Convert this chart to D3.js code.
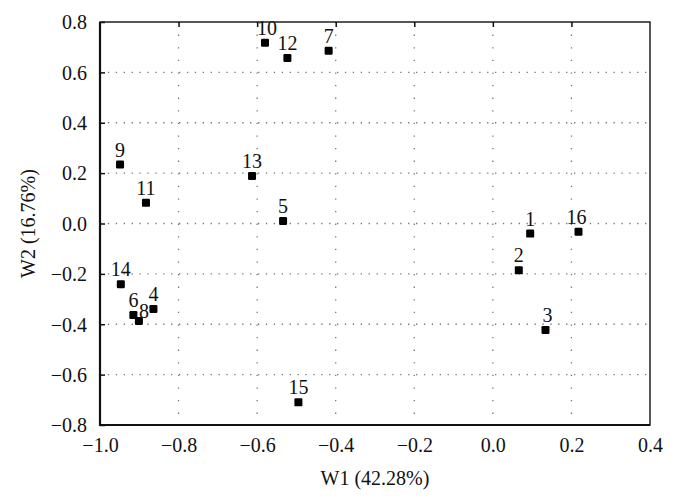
<!DOCTYPE html>
<html>
<head>
<meta charset="utf-8">
<script src="https://cdn.jsdelivr.net/npm/d3@7"></script>
<style>
    body { margin: 0; background: #fff; }
    svg text { font-family: "Liberation Serif", "DejaVu Serif", serif; fill: #111; }
</style>
</head>
<body>
<script>
(function() {

    // data
    var pointIds = ["1", "2", "3", "4", "5", "6", "7", "8", "9", "10", "11", "12", "13", "14", "15", "16"];
    var w1Values = [0.095, 0.066, 0.134, -0.864, -0.534, -0.915, -0.418, -0.901, -0.949, -0.580, -0.883, -0.523, -0.613, -0.947, -0.495, 0.218];
    var w2Values = [-0.040, -0.186, -0.423, -0.339, 0.010, -0.363, 0.686, -0.387, 0.234, 0.718, 0.082, 0.657, 0.189, -0.241, -0.710, -0.033];
    var xTicks = [-1.0, -0.8, -0.6, -0.4, -0.2, 0.0, 0.2, 0.4];
    var yTicks = [-0.8, -0.6, -0.4, -0.2, 0.0, 0.2, 0.4, 0.6, 0.8];
    var xTitle = "W1 (42.28%)";
    var yTitle = "W2 (16.76%)";

    // chart frame
    var width = 676,
        height = 501,
        left = 100,
        right = 650,
        top = 22,
        bottom = 425,
        fontSize = 20;

    // small label nudges where the reference moves a label off-centre
    var labelNudge = { "8": [5, 5], "10": [2, 0], "3": [2, 0], "16": [-2, 0] };

    var xScale = d3.scaleLinear().domain([-1.0, 0.4]).range([left, right]);
    var yScale = d3.scaleLinear().domain([-0.8, 0.8]).range([bottom, top]);

    var fmt = function(d) { return d3.format(".1f")(d).replace("-", "\u2212"); };

    var svg = d3.select("body").append("svg")
        .attr("width", width)
        .attr("height", height);

    // dotted grid
    svg.append("g").selectAll("line")
        .data(xTicks.slice(1, -1))
        .enter().append("line")
        .attr("x1", function(d) { return xScale(d); })
        .attr("x2", function(d) { return xScale(d); })
        .attr("y1", top)
        .attr("y2", bottom)
        .attr("stroke", "#777")
        .attr("stroke-width", 1.3)
        .attr("stroke-dasharray", "1.3,11.3");

    svg.append("g").selectAll("line")
        .data(yTicks.slice(1, -1))
        .enter().append("line")
        .attr("x1", left)
        .attr("x2", right)
        .attr("y1", function(d) { return yScale(d); })
        .attr("y2", function(d) { return yScale(d); })
        .attr("stroke", "#777")
        .attr("stroke-width", 1.3)
        .attr("stroke-dasharray", "1.3,6.6");

    // axes with inward ticks
    var xAxis = d3.axisBottom(xScale)
        .tickValues(xTicks)
        .tickSizeInner(0)
        .tickSizeOuter(0)
        .tickPadding(13)
        .tickFormat(fmt);

    var gx = svg.append("g")
        .attr("transform", "translate(0," + bottom + ")")
        .call(xAxis);
    gx.select(".domain").remove();
    gx.selectAll("text").attr("font-size", fontSize).attr("fill", "#111");

    var yAxis = d3.axisLeft(yScale)
        .tickValues(yTicks)
        .tickSizeInner(-5)
        .tickSizeOuter(0)
        .tickPadding(13)
        .tickFormat(fmt);

    var gy = svg.append("g")
        .attr("transform", "translate(" + left + ",0)")
        .call(yAxis);
    gy.select(".domain").remove();
    gy.selectAll("line").attr("stroke", "#111").attr("stroke-width", 1.5);
    gy.selectAll("text").attr("font-size", fontSize).attr("fill", "#111").attr("dy", "0.34em");

    var xTop = d3.axisTop(xScale)
        .tickValues(xTicks.slice(1, -1))
        .tickSizeInner(-5)
        .tickSizeOuter(0)
        .tickFormat("");
    var gt = svg.append("g")
        .attr("transform", "translate(0," + top + ")")
        .call(xTop);
    gt.select(".domain").remove();
    gt.selectAll("line").attr("stroke", "#111").attr("stroke-width", 1.5);

    // frame
    svg.append("rect")
        .attr("x", left)
        .attr("y", top)
        .attr("width", right - left)
        .attr("height", bottom - top)
        .attr("fill", "none")
        .attr("stroke", "#111")
        .attr("stroke-width", 1.4);
    svg.append("path")
        .attr("d", "M" + left + "," + top + "V" + bottom + "H" + right)
        .attr("fill", "none")
        .attr("stroke", "#111")
        .attr("stroke-width", 2.2);

    // axis titles
    svg.append("text")
        .attr("x", (left + right) / 2)
        .attr("y", 485)
        .attr("text-anchor", "middle")
        .attr("font-size", fontSize)
        .text(xTitle);

    svg.append("text")
        .attr("transform", "translate(35," + ((top + bottom) / 2) + ") rotate(-90)")
        .attr("text-anchor", "middle")
        .attr("font-size", fontSize)
        .text(yTitle);

    // points
    var pts = pointIds.map(function(id, i) {
        return { id: id, x: w1Values[i], y: w2Values[i] };
    });

    svg.append("g").selectAll("rect")
        .data(pts)
        .enter().append("rect")
        .attr("x", function(d) { return xScale(d.x) - 4; })
        .attr("y", function(d) { return yScale(d.y) - 4; })
        .attr("width", 8)
        .attr("height", 8)
        .attr("rx", 1.2)
        .attr("fill", "#000");

    svg.append("g").selectAll("text")
        .data(pts)
        .enter().append("text")
        .attr("x", function(d) { return xScale(d.x) + (labelNudge[d.id] ? labelNudge[d.id][0] : 0); })
        .attr("y", function(d) { return yScale(d.y) - 8 + (labelNudge[d.id] ? labelNudge[d.id][1] : 0); })
        .attr("text-anchor", "middle")
        .attr("font-size", fontSize)
        .text(function(d) { return d.id; });

})();
</script>
</body>
</html>
